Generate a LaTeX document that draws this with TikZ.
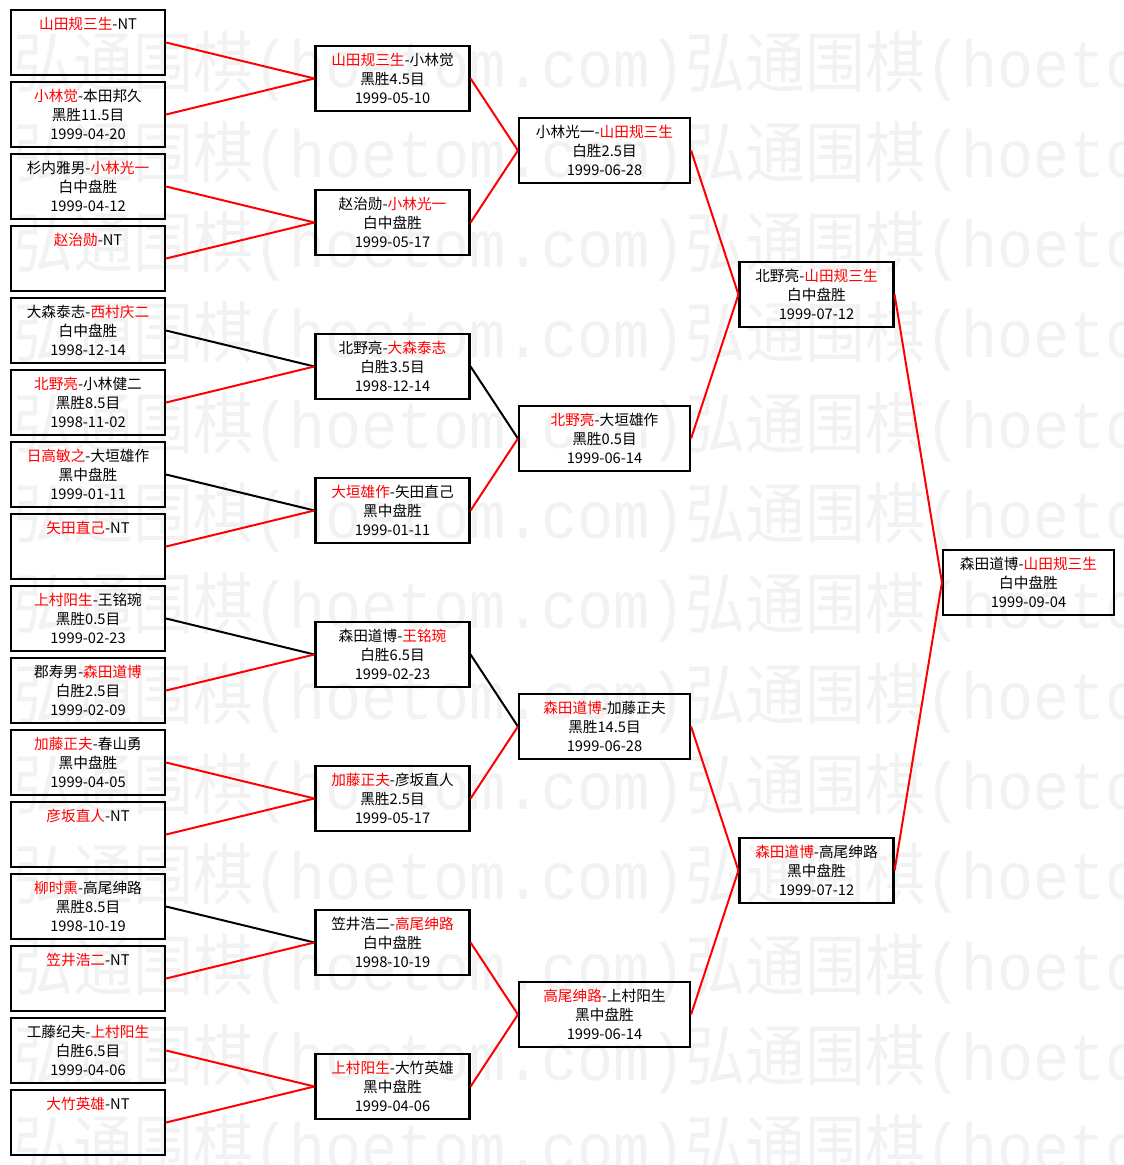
\documentclass[tikz,border=0pt]{standalone}
\usepackage{fontspec}
\usepackage{tikz}
\usepackage{color}
\setmainfont{Noto Sans CJK SC}
\newfontfamily\markmono{Liberation Mono}
\newcommand{\win}[1]{\textcolor{red}{#1}}
\definecolor{markgray}{gray}{0.95}

\begin{document}
\begin{tikzpicture}[x=0.75pt, y=-0.75pt,
	 gamenode/.style={draw, line width=1.6pt, inner sep=0pt, minimum height=48.75pt,
	   align=center, font=\fontsize{11}{14.25}\selectfont},
	 narrow/.style={gamenode, minimum width=115.5pt},
	 wide/.style={gamenode, minimum width=128.25pt},
	 redlink/.style={red, line width=1.5pt},
	 blacklink/.style={black, line width=1.5pt},
	 marktext/.style={anchor=west, inner sep=0pt, text=markgray, xscale=0.9, transform shape,
	   font=\fontsize{50}{50}\selectfont}]
	 \useasboundingbox (0,0) rectangle (1124,1165);
	 % watermark
	 \begin{scope}
	   \clip (0,0) rectangle (1124,1165);
	   \foreach \k in {0,...,12}
	     \node (mark\k) at (13,66+90.3*\k) [marktext] {弘通围棋{\markmono (hoetom.com)}弘通围棋{\markmono (hoetom.com)}};
	 \end{scope}
	 % first round
	 \node (a1) at (88,42.5) [narrow] {\win{山田规三生}-NT\\ \mbox{}\\ \mbox{}};
	 \node (a2) at (88,114.5) [narrow] {\win{小林觉}-本田邦久\\黑胜11.5目\\1999-04-20};
	 \node (a3) at (88,186.5) [narrow] {杉内雅男-\win{小林光一}\\白中盘胜\\1999-04-12};
	 \node (a4) at (88,258.5) [narrow] {\win{赵治勋}-NT\\ \mbox{}\\ \mbox{}};
	 \node (a5) at (88,330.5) [narrow] {大森泰志-\win{西村庆二}\\白中盘胜\\1998-12-14};
	 \node (a6) at (88,402.5) [narrow] {\win{北野亮}-小林健二\\黑胜8.5目\\1998-11-02};
	 \node (a7) at (88,474.5) [narrow] {\win{日高敏之}-大垣雄作\\黑中盘胜\\1999-01-11};
	 \node (a8) at (88,546.5) [narrow] {\win{矢田直己}-NT\\ \mbox{}\\ \mbox{}};
	 \node (a9) at (88,618.5) [narrow] {\win{上村阳生}-王铭琬\\黑胜0.5目\\1999-02-23};
	 \node (a10) at (88,690.5) [narrow] {郡寿男-\win{森田道博}\\白胜2.5目\\1999-02-09};
	 \node (a11) at (88,762.5) [narrow] {\win{加藤正夫}-春山勇\\黑中盘胜\\1999-04-05};
	 \node (a12) at (88,834.5) [narrow] {\win{彦坂直人}-NT\\ \mbox{}\\ \mbox{}};
	 \node (a13) at (88,906.5) [narrow] {\win{柳时熏}-高尾绅路\\黑胜8.5目\\1998-10-19};
	 \node (a14) at (88,978.5) [narrow] {\win{笠井浩二}-NT\\ \mbox{}\\ \mbox{}};
	 \node (a15) at (88,1050.5) [narrow] {工藤纪夫-\win{上村阳生}\\白胜6.5目\\1999-04-06};
	 \node (a16) at (88,1122.5) [narrow] {\win{大竹英雄}-NT\\ \mbox{}\\ \mbox{}};
	 % second round
	 \node (b1) at (392.5,78.5) [narrow] {\win{山田规三生}-小林觉\\黑胜4.5目\\1999-05-10};
	 \node (b2) at (392.5,222.5) [narrow] {赵治勋-\win{小林光一}\\白中盘胜\\1999-05-17};
	 \node (b3) at (392.5,366.5) [narrow] {北野亮-\win{大森泰志}\\白胜3.5目\\1998-12-14};
	 \node (b4) at (392.5,510.5) [narrow] {\win{大垣雄作}-矢田直己\\黑中盘胜\\1999-01-11};
	 \node (b5) at (392.5,654.5) [narrow] {森田道博-\win{王铭琬}\\白胜6.5目\\1999-02-23};
	 \node (b6) at (392.5,798.5) [narrow] {\win{加藤正夫}-彦坂直人\\黑胜2.5目\\1999-05-17};
	 \node (b7) at (392.5,942.5) [narrow] {笠井浩二-\win{高尾绅路}\\白中盘胜\\1998-10-19};
	 \node (b8) at (392.5,1086.5) [narrow] {\win{上村阳生}-大竹英雄\\黑中盘胜\\1999-04-06};
	 % third round
	 \node (c1) at (604.5,150.5) [wide] {小林光一-\win{山田规三生}\\白胜2.5目\\1999-06-28};
	 \node (c2) at (604.5,438.5) [wide] {\win{北野亮}-大垣雄作\\黑胜0.5目\\1999-06-14};
	 \node (c3) at (604.5,726.5) [wide] {\win{森田道博}-加藤正夫\\黑胜14.5目\\1999-06-28};
	 \node (c4) at (604.5,1014.5) [wide] {\win{高尾绅路}-上村阳生\\黑中盘胜\\1999-06-14};
	 % semi final and final
	 \node (d1) at (816.5,294.5) [narrow] {北野亮-\win{山田规三生}\\白中盘胜\\1999-07-12};
	 \node (d2) at (816.5,870.5) [narrow] {\win{森田道博}-高尾绅路\\黑中盘胜\\1999-07-12};
	 \node (e1) at (1028.5,582.5) [wide] {森田道博-\win{山田规三生}\\白中盘胜\\1999-09-04};
	 % links
	 \draw[redlink] (a1.east) -- (b1.west);
	 \draw[redlink] (a2.east) -- (b1.west);
	 \draw[redlink] (a3.east) -- (b2.west);
	 \draw[redlink] (a4.east) -- (b2.west);
	 \draw[blacklink] (a5.east) -- (b3.west);
	 \draw[redlink] (a6.east) -- (b3.west);
	 \draw[blacklink] (a7.east) -- (b4.west);
	 \draw[redlink] (a8.east) -- (b4.west);
	 \draw[blacklink] (a9.east) -- (b5.west);
	 \draw[redlink] (a10.east) -- (b5.west);
	 \draw[redlink] (a11.east) -- (b6.west);
	 \draw[redlink] (a12.east) -- (b6.west);
	 \draw[blacklink] (a13.east) -- (b7.west);
	 \draw[redlink] (a14.east) -- (b7.west);
	 \draw[redlink] (a15.east) -- (b8.west);
	 \draw[redlink] (a16.east) -- (b8.west);
	 \draw[redlink] (b1.east) -- (c1.west);
	 \draw[redlink] (b2.east) -- (c1.west);
	 \draw[blacklink] (b3.east) -- (c2.west);
	 \draw[redlink] (b4.east) -- (c2.west);
	 \draw[blacklink] (b5.east) -- (c3.west);
	 \draw[redlink] (b6.east) -- (c3.west);
	 \draw[redlink] (b7.east) -- (c4.west);
	 \draw[redlink] (b8.east) -- (c4.west);
	 \draw[redlink] (c1.east) -- (d1.west);
	 \draw[redlink] (c2.east) -- (d1.west);
	 \draw[redlink] (c3.east) -- (d2.west);
	 \draw[redlink] (c4.east) -- (d2.west);
	 \draw[redlink] (d1.east) -- (e1.west);
	 \draw[redlink] (d2.east) -- (e1.west);
\end{tikzpicture}
\end{document}
